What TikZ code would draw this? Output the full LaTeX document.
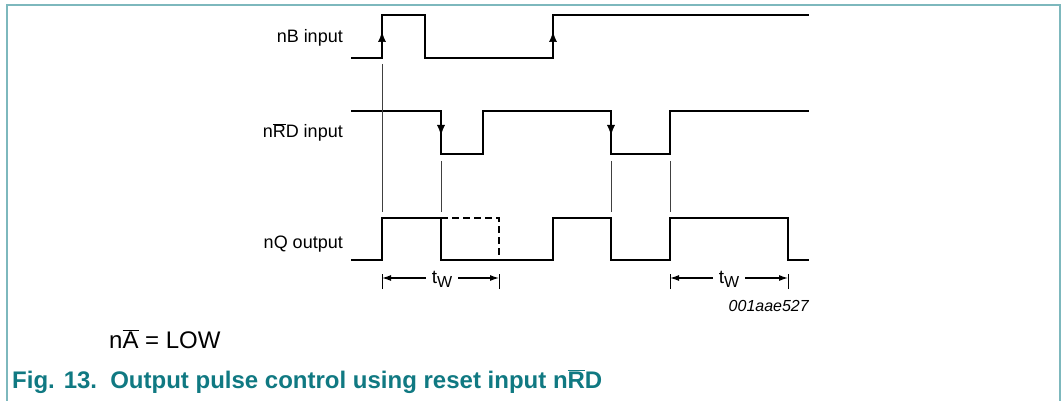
\documentclass[tikz,border=0pt]{standalone}
\usepackage{fontspec}
\setmainfont{Liberation Sans}
\usetikzlibrary{arrows.meta}
\definecolor{framecol}{RGB}{125,184,189}
\definecolor{figteal}{RGB}{16,121,130}
\newcommand{\ovl}[1]{$\overline{\mbox{#1}}$}
\newcommand{\tw}{{\fontsize{19}{21}\selectfont t}\raisebox{-4pt}{\fontsize{16}{18}\selectfont W}}
\tikzset{
	frameline/.style={line width=2pt, framecol},
	wave/.style={line width=2.8pt, line join=miter},
	guide/.style={line width=0.7pt, black!75},
	uptip/.style={-{Latex[length=10pt,width=8pt]}, line width=0.5pt},
	dimtick/.style={line width=1pt},
	dimarrow/.style={-{Latex[length=9pt,width=6pt]}, line width=1.2pt},
	sig/.style={anchor=base east, inner sep=0pt},
}
\begin{document}
\begin{tikzpicture}[x=1pt,y=-1pt,font=\fontsize{18}{21}\selectfont]
	\useasboundingbox (0,0) rectangle (1063,401);
	\draw[frameline] (7,401) -- (7,5) -- (1060,5) -- (1060,401);
	
	\node[sig] (lblB) at (343,43) {nB input};
	\node[sig] (lblRD) at (343,138) {n\ovl{R}D input};
	\node[sig] (lblQ) at (343,248) {nQ output};
	
	\draw[wave] (351,58) -- (382,58) -- (382,15) -- (425,15) -- (425,58) -- (553,58) -- (553,15) -- (809,15);
	\draw[wave] (351,111) -- (441,111) -- (441,154) -- (483,154) -- (483,111) -- (611,111) -- (611,154) -- (670,154) -- (670,111) -- (809,111);
	\draw[wave] (351,260) -- (382,260) -- (382,218) -- (441,218) -- (441,260) -- (553,260) -- (553,218) -- (611,218) -- (611,260) -- (670,260) -- (670,218) -- (788,218) -- (788,260) -- (809,260);
	\draw[wave, line width=2.3pt, dash pattern=on 7pt off 4pt] (441,218) -- (499,218) -- (499,260);
	
	\draw[uptip] (382,48) -- (382,32);
	\draw[uptip] (553,48) -- (553,32);
	\draw[uptip] (441,120) -- (441,135);
	\draw[uptip] (611,120) -- (611,135);
	
	\draw[guide] (382,64) -- (382,212);
	\draw[guide] (441,161) -- (441,212);
	\draw[guide] (611,161) -- (611,212);
	\draw[guide] (670,161) -- (670,212);
	
	\coordinate (twAl) at (382,278);
	\coordinate (twAr) at (499,278);
	\coordinate (twBl) at (670,278);
	\coordinate (twBr) at (788,278);
	\foreach \p in {twAl,twAr,twBl,twBr}
		\draw[dimtick] ([yshift=-11pt]\p) -- ([yshift=4pt]\p);
	\node[anchor=base, inner sep=6pt] (twA) at (442,283) {\tw};
	\node[anchor=base, inner sep=6pt] (twB) at (729,283) {\tw};
	\draw[dimarrow] (twA.west |- twAl) -- (twAl);
	\draw[dimarrow] (twA.east |- twAr) -- (twAr);
	\draw[dimarrow] (twB.west |- twBl) -- (twBl);
	\draw[dimarrow] (twB.east |- twBr) -- (twBr);
	
	\node[sig, font=\fontsize{16}{18}\selectfont\itshape] (code) at (809,311) {001aae527};
	\node[anchor=base west, inner sep=0pt, font=\fontsize{24}{26}\selectfont] (lowA) at (109,348) {n\ovl{A} = LOW};
	\node[anchor=base west, inner sep=0pt, text=figteal, font=\fontsize{24}{26}\selectfont\bfseries] (caption) at (12,388) {Fig. 13.\hspace{0.55em}Output pulse control using reset input n\ovl{R}D};
\end{tikzpicture}
\end{document}
